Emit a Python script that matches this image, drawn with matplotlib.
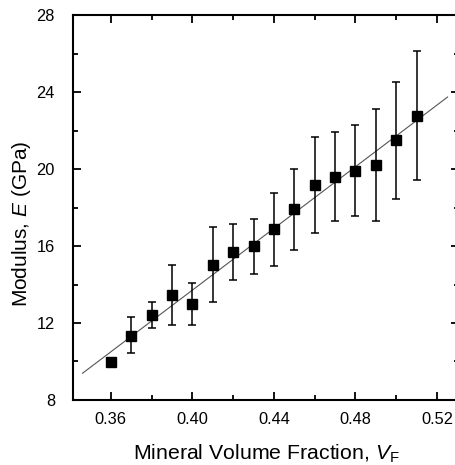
import numpy as np
import matplotlib
matplotlib.use('Agg')
import matplotlib.pyplot as plt
from matplotlib.ticker import MultipleLocator

plt.rcParams['font.family'] = 'Liberation Sans'
plt.rcParams['mathtext.fontset'] = 'custom'
plt.rcParams['mathtext.rm'] = 'Liberation Sans'
plt.rcParams['mathtext.it'] = 'Liberation Sans:italic'

# mineral volume fraction vs modulus
vf = [0.36, 0.37, 0.38, 0.39, 0.40, 0.41, 0.42, 0.43, 0.44, 0.45,
      0.46, 0.47, 0.48, 0.49, 0.50, 0.51]
modulus = [9.97, 11.32, 12.40, 13.44, 13.00, 15.00, 15.67, 15.98, 16.87, 17.91,
           19.17, 19.57, 19.90, 20.19, 21.49, 22.75]
err_hi = [9.97, 12.30, 13.07, 15.00, 14.10, 16.97, 17.12, 17.39, 18.74, 20.00,
          21.66, 21.90, 22.27, 23.12, 24.52, 26.12]
err_lo = [9.97, 10.43, 11.72, 11.88, 11.91, 13.07, 14.21, 14.55, 14.94, 15.78,
          16.66, 17.28, 17.56, 17.28, 18.42, 19.41]

# linear fit line end points
fit_x = [0.3461, 0.5252]
fit_y = [9.39, 23.74]

vf = np.array(vf)
modulus = np.array(modulus)
yerr = np.vstack([modulus - np.array(err_lo), np.array(err_hi) - modulus])

fig = plt.figure(figsize=(4.56, 4.65), dpi=100)
ax = fig.add_axes([0.160, 0.1398, 0.8466, 0.8279])

ax.plot(fit_x, fit_y, color='#555555', lw=0.8, zorder=1)
ax.errorbar(vf, modulus, yerr=yerr, fmt='s', color='black', ms=6.5,
            ecolor='black', elinewidth=1.1, capsize=3, capthick=1.1, zorder=2)

ax.set_xlim(0.3414, 0.5308)
ax.set_ylim(8, 28)
ax.xaxis.set_major_locator(MultipleLocator(0.04))
ax.xaxis.set_minor_locator(MultipleLocator(0.02))
ax.yaxis.set_major_locator(MultipleLocator(4))
ax.yaxis.set_minor_locator(MultipleLocator(2))
ax.xaxis.set_major_formatter(plt.FormatStrFormatter('%.2f'))

ax.tick_params(which='both', direction='in', top=True, right=True,
               labelsize=11.8, width=1.3)
ax.tick_params(which='major', length=6)
ax.tick_params(which='minor', length=3.6)
ax.tick_params(axis='x', which='major', pad=9)
ax.tick_params(axis='y', which='major', pad=13)
for s in ax.spines.values():
    s.set_linewidth(1.5)

ax.set_xlabel(r'Mineral Volume Fraction, $\mathit{V}_{\mathrm{F}}$', fontsize=15.3, labelpad=11)
ax.set_ylabel(r'Modulus, $\mathit{E}$ (GPa)', fontsize=15)
ax.yaxis.set_label_coords(-0.104, 0.457)

fig.savefig('out.png', dpi=100)
